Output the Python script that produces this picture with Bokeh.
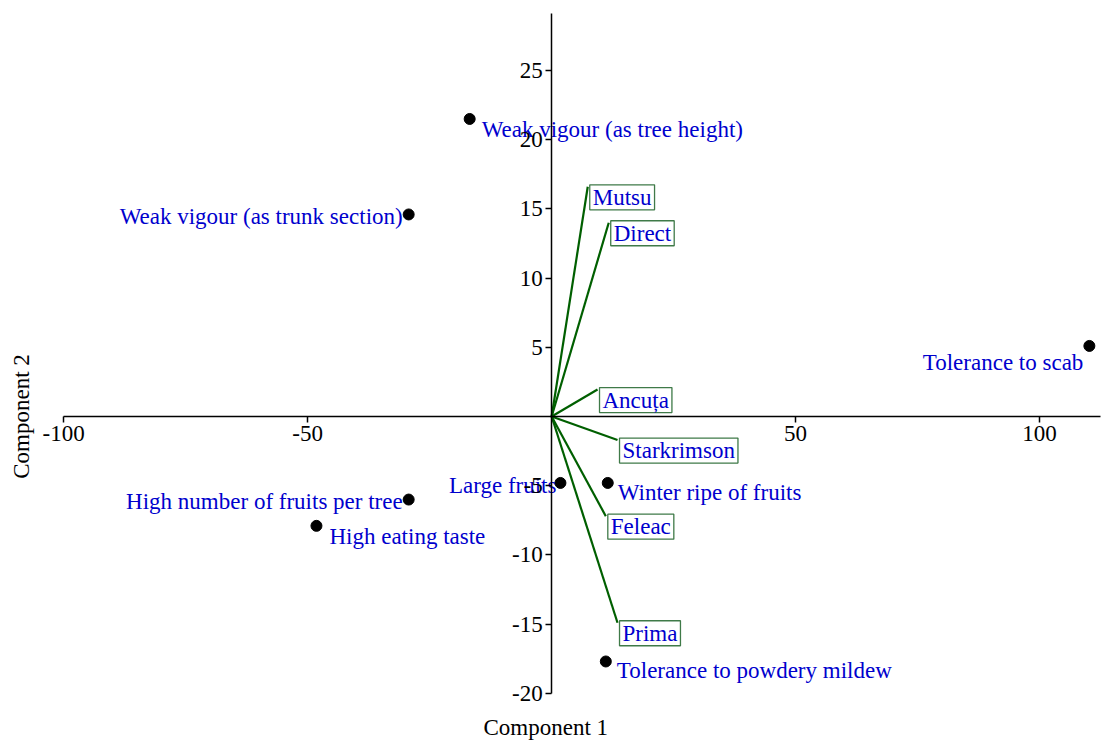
import math
from bokeh.plotting import figure
from bokeh.models import Range1d, FixedTicker, ColumnDataSource, Label
from bokeh.core.properties import value
from bokeh.embed import file_html
from bokeh.resources import INLINE

# ---- data ----
variables = ["Weak vigour (as tree height)", "Weak vigour (as trunk section)",
             "Tolerance to scab", "Large fruits", "Winter ripe of fruits",
             "High number of fruits per tree", "High eating taste",
             "Tolerance to powdery mildew"]
var_x = [-16.8, -29.3, 110.2, 1.8, 11.5, -29.3, -48.2, 11.1]
var_y = [21.5, 14.6, 5.1, -4.8, -4.8, -6.0, -7.9, -17.7]

cultivars = ["Mutsu", "Direct", "Ancuța", "Starkrimson", "Feleac", "Prima"]
load_x = [7.4, 11.7, 9.4, 13.5, 11.1, 13.5]
load_y = [16.6, 14.0, 1.95, -1.7, -7.2, -14.9]

x_ticks = [-100, -50, 50, 100]
x_tick_labels = ["-100", "-50", "50", "100"]
y_ticks = [-20, -15, -10, -5, 5, 10, 15, 20, 25]
y_tick_labels = ["-20", "-15", "-10", "-5", "5", "10", "15", "20", "25"]

# ---- label placement (styles) ----
var_align = ["left", "right", "right", "right", "left", "right", "left", "left"]
var_dx = [12, -6, -6, -4, 10, -6, 13, 11]
var_dy = [11, 2, 17, 3, 10, 2, 11, 9]

FONT = "Liberation Serif"
FS = "23px"
BLUE = "#0000CD"
GREEN = "#005f00"

p = figure(width=1104, height=740, output_backend="svg", toolbar_location=None,
           x_range=Range1d(-112.95, 113.3), y_range=Range1d(-23.41, 30.06),
           min_border_left=0, min_border_right=0, min_border_top=0,
           min_border_bottom=0)
p.outline_line_color = None
p.grid.visible = False
p.background_fill_color = "white"

for ax in (p.xaxis[0], p.yaxis[0]):
    ax.fixed_location = 0
    ax.axis_line_color = "black"
    ax.axis_line_width = 1.5
    ax.major_tick_line_color = "black"
    ax.major_tick_line_width = 1.5
    ax.major_tick_in = 0
    ax.major_tick_out = 6
    ax.minor_tick_line_color = None
    ax.major_label_text_font = FONT
    ax.major_label_text_font_size = FS
    ax.major_label_text_color = "black"
    ax.major_label_standoff = 3
p.xaxis[0].ticker = FixedTicker(ticks=x_ticks)
p.yaxis[0].ticker = FixedTicker(ticks=y_ticks)
p.xaxis[0].major_label_overrides = dict(zip(x_ticks, x_tick_labels))
p.yaxis[0].major_label_overrides = dict(zip(y_ticks, y_tick_labels))
p.xaxis[0].bounds = (-100, 112.5)
p.yaxis[0].bounds = (-20, 29.1)

# loading vectors
lsrc = ColumnDataSource(dict(x0=[0] * len(load_x), y0=[0] * len(load_y),
                             x1=load_x, y1=load_y, name=cultivars))
p.segment(x0="x0", y0="y0", x1="x1", y1="y1", source=lsrc,
          line_color=GREEN, line_width=2.2)
p.text(x="x1", y="y1", text="name", source=lsrc,
       text_font=value(FONT), text_font_size=FS, text_color=BLUE,
       text_align="left", text_baseline="top", x_offset=2, y_offset=-2,
       background_fill_color="white", border_line_color="#3f7a48",
       border_line_width=1.3, padding=dict(left=3, right=3, top=0, bottom=0))

# variable points
vsrc = ColumnDataSource(dict(x=var_x, y=var_y, name=variables,
                             align=var_align, dx=var_dx, dy=var_dy))
p.scatter(x="x", y="y", source=vsrc, size=11, color="black")
p.text(x="x", y="y", text="name", source=vsrc,
       text_font=value(FONT), text_font_size=FS, text_color=BLUE,
       text_align="align", text_baseline="middle",
       x_offset="dx", y_offset="dy")

# axis titles
p.add_layout(Label(x=-1.2, y=-22.5, text="Component 1", text_font=FONT,
                   text_font_size=FS, text_color="black",
                   text_align="center", text_baseline="middle"))
p.add_layout(Label(x=-108.6, y=0, text="Component 2", text_font=FONT,
                   text_font_size=FS, text_color="black", angle=math.pi / 2,
                   text_align="center", text_baseline="middle"))

open("out.html", "w").write(file_html(p, INLINE))
